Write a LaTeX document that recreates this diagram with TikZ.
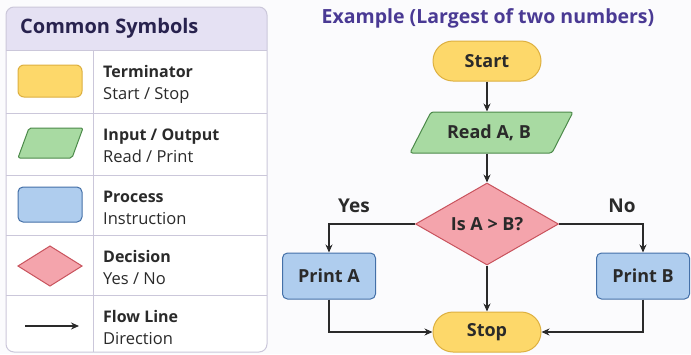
\documentclass[tikz,border=0pt]{standalone}
\usepackage{fontspec}
\setmainfont{Open Sans}
\usetikzlibrary{shapes.geometric,arrows.meta,calc}

\definecolor{bgcol}{HTML}{FBFBFD}
\definecolor{panelline}{HTML}{CBC7DA}
\definecolor{headfill}{HTML}{E5E1F3}
\definecolor{headink}{HTML}{28224E}
\definecolor{titleink}{HTML}{4A3A94}
\definecolor{ink}{HTML}{2A2A2A}
\definecolor{termfill}{HTML}{FDD86A}
\definecolor{termdraw}{HTML}{DDB040}
\definecolor{iofill}{HTML}{A8DAA2}
\definecolor{iodraw}{HTML}{4C8A4A}
\definecolor{procfill}{HTML}{AFCDEE}
\definecolor{procdraw}{HTML}{4470A8}
\definecolor{decfill}{HTML}{F4A4AC}
\definecolor{decdraw}{HTML}{C9545E}

\tikzset{
  base/.style={line width=1pt, inner sep=0pt, font=\fontsize{18}{20}\selectfont\bfseries, text=ink},
  term/.style={base, rectangle, draw=termdraw, fill=termfill, rounded corners=20pt,
    minimum width=108pt, minimum height=40pt},
  iotext/.style={base, rectangle, minimum height=41pt, minimum width=120pt},
  iobox/.style={draw=iodraw, fill=iofill, line width=1pt, rounded corners=2.5pt},
  proc/.style={base, rectangle, rounded corners=5pt, draw=procdraw, fill=procfill,
    minimum width=93pt, minimum height=46pt},
  dec/.style={base, diamond, aspect=1.75, draw=decdraw, fill=decfill,
    minimum width=143pt, minimum height=82pt},
  flow/.style={draw=ink, line width=1.2pt, -{Stealth[length=8pt,width=7pt]}},
  legtitle/.style={anchor=base west, inner sep=0pt, text=ink, font=\fontsize{16}{18}\selectfont\bfseries},
  legsub/.style={anchor=base west, inner sep=0pt, text=ink, font=\fontsize{16.5}{18}\selectfont},
}

\begin{document}
\begin{tikzpicture}[x=1pt,y=-1pt]
  % canvas
  \fill[bgcol] (0,0) rectangle (691,354);
  \useasboundingbox (0,0) rectangle (691,354);

  % ---- legend panel ----
  \fill[white, rounded corners=8pt] (6,7) rectangle (267,352);
  \begin{scope}
    \clip[rounded corners=8pt] (6,7) rectangle (267,352);
    \fill[headfill] (6,7) rectangle (267,50);
  \end{scope}
  \draw[panelline, line width=1pt, rounded corners=8pt] (6,7) rectangle (267,352);
  \foreach \yy in {50,113,175,235,295}
    \draw[panelline, line width=1pt] (6,\yy) -- (267,\yy);
  \draw[panelline, line width=1pt] (93,50) -- (93,352);

  \node[anchor=west, inner sep=0pt, text=headink, font=\fontsize{20}{22}\selectfont\bfseries]
    (legHead) at (20,28) {Common Symbols};

  % legend symbols
  \draw[termdraw, fill=termfill, line width=1pt, rounded corners=6pt] (18,65) rectangle (82,97);
  \node[inner sep=0pt] (legTerm) at (50,81) {};
  \draw[iodraw, fill=iofill, line width=1pt, rounded corners=2pt]
    (18,158) -- (29,128) -- (83,128) -- (72,158) -- cycle;
  \node[inner sep=0pt] (legIO) at (50,143) {};
  \draw[procdraw, fill=procfill, line width=1pt, rounded corners=5pt] (18,187) rectangle (82,222);
  \node[inner sep=0pt] (legProc) at (50,205) {};
  \draw[decdraw, fill=decfill, line width=1pt]
    (18,266) -- (50,246) -- (82,266) -- (50,286) -- cycle;
  \node[inner sep=0pt] (legDec) at (50,266) {};
  \coordinate (legA) at (25,326);
  \coordinate (legB) at (79,326);
  \draw[flow] (legA) -- (legB);

  % legend descriptions (baselines)
  \node[legtitle] (t1) at (103,77)  {Terminator};
  \node[legsub]   (s1) at (103,99)  {Start / Stop};
  \node[legtitle] (t2) at (103,140) {Input / Output};
  \node[legsub]   (s2) at (103,162) {Read / Print};
  \node[legtitle] (t3) at (103,202) {Process};
  \node[legsub]   (s3) at (103,224) {Instruction};
  \node[legtitle] (t4) at (103,262) {Decision};
  \node[legsub]   (s4) at (103,284) {Yes / No};
  \node[legtitle] (t5) at (103,322) {Flow Line};
  \node[legsub]   (s5) at (103,344) {Direction};

  % ---- example flowchart ----
  \node[text=titleink, inner sep=0pt, font=\fontsize{19.5}{21}\selectfont\bfseries]
    (title) at (488,18) {Example (Largest of two numbers)};

  % input parallelogram drawn behind its label node
  \draw[iobox] (410,153) -- (431,112) -- (573,112) -- (552,153) -- cycle;

  \node[term]   (start) at (487,61) {Start};
  \node[iotext] (read)  at (489,132.5) {Read A, B};
  \node[dec]    (cmp)   at (487,224) {Is A > B?};
  \node[proc]   (pa)    at (329,276) {Print A};
  \node[proc]   (pb)    at (643,276) {Print B};
  \node[term]   (stop)  at (487,332) {Stop};

  \node[base, font=\fontsize{19}{21}\selectfont\bfseries] (yes) at (354,206) {Yes};
  \node[base, font=\fontsize{19}{21}\selectfont\bfseries] (no)  at (622,206) {No};

  \draw[flow] (start) -- (start |- read.north);
  \draw[flow] (read.south -| cmp) -- (cmp.north);
  \draw[flow] (cmp.west) -| (pa.north);
  \draw[flow] (cmp.east) -| (pb.north);
  \draw[flow] (cmp.south) -- (stop.north);
  \draw[flow] (pa.south) |- (stop.west);
  \draw[flow] (pb.south) |- (stop.east);
\end{tikzpicture}
\end{document}
